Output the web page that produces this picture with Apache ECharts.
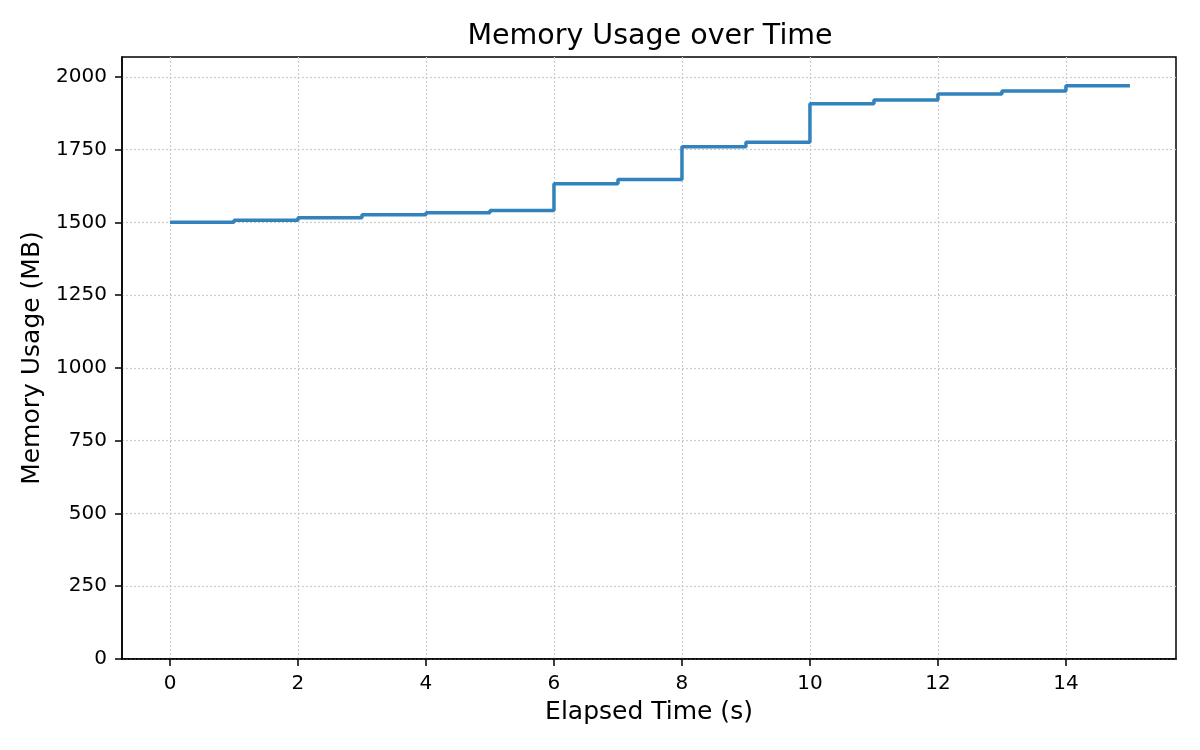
<!DOCTYPE html>
<html>
<head>
<meta charset="utf-8">
<script src="https://cdn.jsdelivr.net/npm/echarts@6/dist/echarts.min.js"></script>
<style>
  html, body { margin: 0; padding: 0; background: #fff; }
  #chart-container { width: 1200px; height: 750px; }
</style>
</head>
<body>
<div id="chart-container"></div>
<script>
// elapsed time (s) and memory reading (MB) at each sample
var times = [0, 1, 2, 3, 4, 5, 6, 7, 8, 9, 10, 11, 12, 13, 14, 15];
var memory = [1500, 1507, 1516, 1526, 1533, 1541, 1633, 1647, 1760, 1775, 1907, 1920, 1941, 1951, 1969, 1969];

var xTicks = [0, 2, 4, 6, 8, 10, 12, 14];
var yTicks = [0, 250, 500, 750, 1000, 1250, 1500, 1750, 2000];

var font = "DejaVu Sans";

var dom = document.getElementById("chart-container");
var myChart = echarts.init(dom, null, { renderer: "canvas" });

var points = times.map(function (t, i) { return [t, memory[i]]; });

var option = {
  animation: false,
  title: {
    text: "Memory Usage over Time",
    left: 645,
    textAlign: "center",
    top: 17,
    textStyle: { fontFamily: font, fontSize: 28.5, fontWeight: "normal", color: "#000" }
  },
  grid: {
    left: 122, right: 24, top: 57, bottom: 91,
    show: true, borderColor: "#000", borderWidth: 1.5
  },
  xAxis: {
    type: "value",
    min: -0.75,
    max: 15.72,
    name: "Elapsed Time (s)",
    nameLocation: "middle",
    nameGap: 41,
    nameTextStyle: { fontFamily: font, fontSize: 25, color: "#000" },
    axisLine: { show: true, onZero: false, lineStyle: { color: "#000", width: 1.5 } },
    axisTick: { show: true, length: 7, customValues: xTicks, lineStyle: { color: "#000", width: 1.5 } },
    axisLabel: { customValues: xTicks, margin: 15, fontFamily: font, fontSize: 20, color: "#000" },
    splitLine: { show: true, lineStyle: { color: "#cccccc", width: 1.2, type: [2, 2] } }
  },
  yAxis: {
    type: "value",
    min: 0,
    max: 2068,
    name: "Memory Usage (MB)",
    nameLocation: "middle",
    nameGap: 76,
    nameTextStyle: { fontFamily: font, fontSize: 25, color: "#000" },
    axisLine: { show: true, onZero: false, lineStyle: { color: "#000", width: 1.5 } },
    axisTick: { show: true, length: 7, customValues: yTicks, lineStyle: { color: "#000", width: 1.5 } },
    axisLabel: {
      customValues: yTicks, margin: 15, fontFamily: font, fontSize: 20, color: "#000",
      formatter: function (v) { return String(v); }
    },
    splitLine: { show: true, lineStyle: { color: "#cccccc", width: 1.2, type: [2, 2] } }
  },
  series: [{
    name: "Memory",
    type: "line",
    step: "end",
    data: points,
    showSymbol: false,
    lineStyle: { color: "#3182bd", width: 3.5 },
    itemStyle: { color: "#3182bd" }
  }]
};

myChart.setOption(option);
window.addEventListener("resize", myChart.resize);
</script>
</body>
</html>
